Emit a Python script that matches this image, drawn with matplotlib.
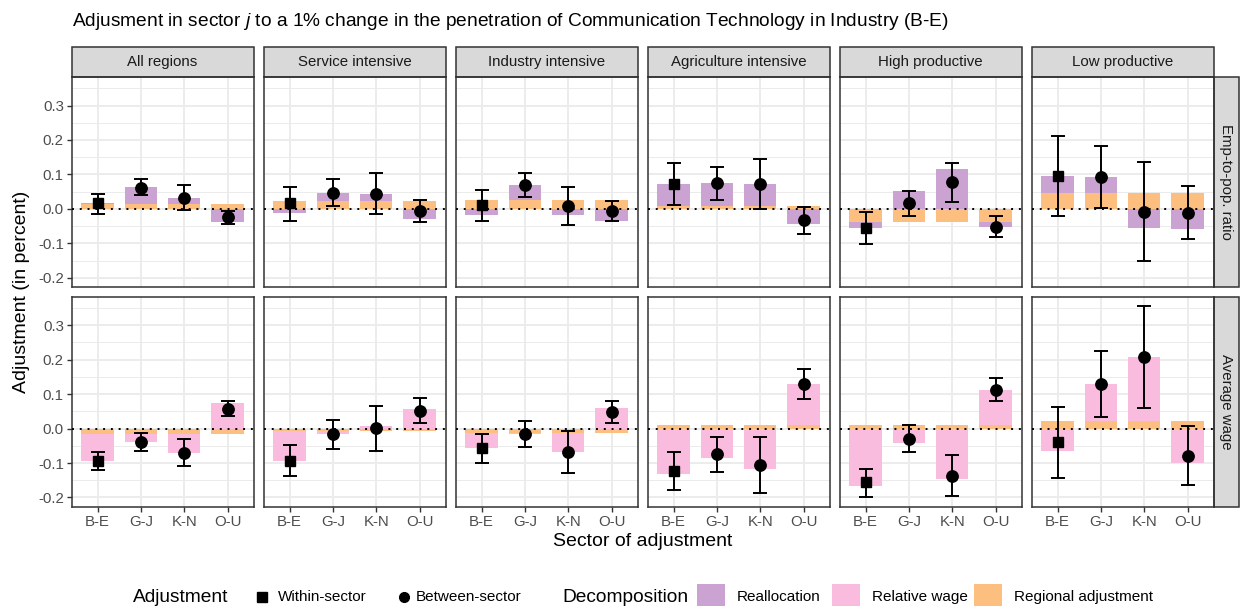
import matplotlib
matplotlib.use("Agg")
import matplotlib.pyplot as plt
from matplotlib.patches import Rectangle
from matplotlib.lines import Line2D
import numpy as np

plt.rcParams['font.family'] = ['Liberation Sans', 'DejaVu Sans']
plt.rcParams['mathtext.fontset'] = 'custom'
plt.rcParams['mathtext.rm'] = 'Liberation Sans'
plt.rcParams['mathtext.it'] = 'Liberation Sans:italic'

# --- data ---
sectors = ['B-E', 'G-J', 'K-N', 'O-U']
regions = ['All regions', 'Service intensive', 'Industry intensive',
           'Agriculture intensive', 'High productive', 'Low productive']
outcomes = ['Emp-to-pop. ratio', 'Average wage']

# Emp-to-pop. ratio
regional_emp = [0.013, 0.024, 0.026, 0.009, -0.038, 0.046]
realloc_emp = [
    [0.003, 0.050, 0.019, -0.037],
    [-0.011, 0.023, 0.020, -0.030],
    [-0.017, 0.042, -0.019, -0.034],
    [0.064, 0.065, 0.064, -0.044],
    [-0.017, 0.052, 0.115, -0.014],
    [0.049, 0.047, -0.055, -0.058],
]
est_emp = [
    [0.016, 0.062, 0.032, -0.024],
    [0.016, 0.047, 0.044, -0.006],
    [0.010, 0.068, 0.008, -0.006],
    [0.073, 0.074, 0.073, -0.033],
    [-0.055, 0.016, 0.078, -0.052],
    [0.096, 0.092, -0.009, -0.012],
]
hi_emp = [
    [0.044, 0.086, 0.070, -0.005],
    [0.065, 0.086, 0.104, 0.026],
    [0.055, 0.104, 0.063, 0.023],
    [0.133, 0.122, 0.145, 0.005],
    [-0.009, 0.051, 0.134, -0.021],
    [0.212, 0.183, 0.136, 0.066],
]
lo_emp = [
    [-0.016, 0.040, -0.003, -0.043],
    [-0.035, 0.009, -0.015, -0.037],
    [-0.036, 0.034, -0.046, -0.035],
    [0.012, 0.027, 0.000, -0.074],
    [-0.102, -0.021, 0.021, -0.081],
    [-0.022, 0.002, -0.152, -0.087],
]

# Average wage
regional_wage = [-0.016, -0.006, -0.013, 0.010, 0.009, 0.023]
relwage = [
    [-0.078, -0.022, -0.054, 0.074],
    [-0.088, -0.009, 0.008, 0.057],
    [-0.044, -0.003, -0.055, 0.060],
    [-0.133, -0.084, -0.117, 0.119],
    [-0.167, -0.041, -0.146, 0.104],
    [-0.064, 0.106, 0.184, -0.101],
]
est_wage = [
    [-0.094, -0.038, -0.070, 0.058],
    [-0.094, -0.016, 0.001, 0.052],
    [-0.057, -0.015, -0.069, 0.047],
    [-0.122, -0.074, -0.107, 0.129],
    [-0.156, -0.031, -0.137, 0.112],
    [-0.040, 0.129, 0.208, -0.079],
]
hi_wage = [
    [-0.068, -0.012, -0.031, 0.081],
    [-0.048, 0.025, 0.067, 0.088],
    [-0.016, 0.023, -0.008, 0.081],
    [-0.068, -0.023, -0.025, 0.173],
    [-0.116, 0.009, -0.078, 0.147],
    [0.064, 0.225, 0.356, 0.008],
]
lo_wage = [
    [-0.120, -0.064, -0.109, 0.037],
    [-0.137, -0.058, -0.065, 0.016],
    [-0.099, -0.053, -0.128, 0.015],
    [-0.177, -0.125, -0.186, 0.087],
    [-0.199, -0.068, -0.196, 0.079],
    [-0.144, 0.034, 0.061, -0.164],
]

col_realloc = '#CBA3D3'
col_relwage = '#F9BCDE'
col_regional = '#FDBF80'
grid_col = '#EBEBEB'
border_col = '#333333'

W, H = 1241, 606
fig = plt.figure(figsize=(W / 100, H / 100), dpi=100)


def px_rect(left, top, w, h):
    return [left / W, 1 - (top + h) / H, w / W, h / H]


panel_w, panel_h = 181.8, 209.8
lefts = [71.7 + 192 * i for i in range(6)]
tops = [77.3, 297.0]

rows = [
    (regional_emp, realloc_emp, col_realloc, est_emp, lo_emp, hi_emp),
    (regional_wage, relwage, col_relwage, est_wage, lo_wage, hi_wage),
]

x = np.arange(1, 5)
for r, (reg, comp, comp_col, est, lo, hi) in enumerate(rows):
    for c in range(6):
        ax = fig.add_axes(px_rect(lefts[c], tops[r], panel_w, panel_h))
        ax.set_xlim(0.4, 4.6)
        ax.set_ylim(-0.227, 0.382)
        ax.set_yticks([-0.2, -0.1, 0.0, 0.1, 0.2, 0.3])
        ax.set_yticks([-0.15, -0.05, 0.05, 0.15, 0.25, 0.35], minor=True)
        ax.set_xticks(x)
        ax.grid(True, which='major', color=grid_col, lw=1.3, zorder=0)
        ax.grid(True, which='minor', axis='y', color=grid_col, lw=0.7, zorder=0)
        ax.set_axisbelow(True)
        for s in ax.spines.values():
            s.set_color(border_col)
            s.set_linewidth(1.1)
        ax.tick_params(axis='both', which='major', length=3.5, width=1.0,
                       color=border_col, labelcolor='#4D4D4D',
                       labelsize=10.8, pad=2.2)
        ax.tick_params(axis='y', which='minor', length=0)

        # stacked decomposition bars
        rv = np.full(4, reg[c])
        cv = np.array(comp[c])
        bottoms = np.where(np.sign(cv) == np.sign(rv), rv, 0.0)
        ax.bar(x, rv, width=0.75, color=col_regional, zorder=2, lw=0)
        ax.bar(x, cv, bottom=bottoms, width=0.75, color=comp_col, zorder=2, lw=0)

        ax.axhline(0, color='black', lw=1.4, ls=(0, (1, 3)), zorder=3)

        e = np.array(est[c])
        yerr = [e - np.array(lo[c]), np.array(hi[c]) - e]
        ax.errorbar(x, e, yerr=yerr, fmt='none', ecolor='black',
                    elinewidth=1.4, capsize=5.3, capthick=1.4, zorder=4)
        ax.plot(x[:1], e[:1], 's', color='black', ms=7.8, zorder=5)
        ax.plot(x[1:], e[1:], 'o', color='black', ms=8.2, zorder=5)

        if c == 0:
            ax.set_yticklabels(['-0.2', '-0.1', '0.0', '0.1', '0.2', '0.3'])
        else:
            ax.tick_params(axis='y', which='major', length=0, labelleft=False)
        if r == 1:
            ax.set_xticklabels(sectors)
        else:
            ax.tick_params(axis='x', length=0, labelbottom=False)

        # strips
        if r == 0:
            sh = 30 / panel_h
            ax.add_patch(Rectangle((0, 1), 1, sh, transform=ax.transAxes,
                                   facecolor='#D9D9D9', edgecolor=border_col,
                                   lw=1.1, clip_on=False))
            ax.text(0.5, 1 + sh / 2, regions[c], transform=ax.transAxes,
                    ha='center', va='center', fontsize=10.8, color='#1A1A1A')
        if c == 5:
            sw = 25 / panel_w
            ax.add_patch(Rectangle((1, 0), sw, 1, transform=ax.transAxes,
                                   facecolor='#D9D9D9', edgecolor=border_col,
                                   lw=1.1, clip_on=False))
            ax.text(1 + sw / 2, 0.5, outcomes[r], transform=ax.transAxes,
                    ha='center', va='center', rotation=-90,
                    fontsize=10.8, color='#1A1A1A')

# titles
fig.text(72 / W, 1 - 22 / H, 'Adjusment in sector $j$ to a 1% change in the penetration '
         'of Communication Technology in Industry (B-E)',
         ha='left', va='center', fontsize=13.8, color='black')
fig.text(642.5 / W, 1 - 542 / H, 'Sector of adjustment', ha='center', va='center',
         fontsize=14, color='black')
fig.text(22 / W, 1 - 292 / H, 'Adjustment (in percent)', ha='center', va='center',
         rotation=90, fontsize=14, color='black')

# legend (manual)
ly = 1 - 597 / H
fig.text(133 / W, ly, 'Adjustment', ha='left', va='center', fontsize=13.8)
fig.add_artist(Line2D([262 / W], [ly], marker='s', color='black', ms=6.5,
                      transform=fig.transFigure))
fig.text(278 / W, ly, 'Within-sector', ha='left', va='center', fontsize=11)
fig.add_artist(Line2D([404 / W], [ly], marker='o', color='black', ms=7,
                      transform=fig.transFigure))
fig.text(416 / W, ly, 'Between-sector', ha='left', va='center', fontsize=11)
fig.text(562 / W, ly, 'Decomposition', ha='left', va='center', fontsize=13.8)
for px, col, lab in [(697, col_realloc, 'Reallocation'),
                     (832, col_relwage, 'Relative wage'),
                     (974, col_regional, 'Regional adjustment')]:
    fig.add_artist(Rectangle((px / W, 1 - 612 / H), 28 / W, 28 / H,
                             facecolor=col, edgecolor='none',
                             transform=fig.transFigure))
    fig.text((px + 40) / W, ly, lab, ha='left', va='center', fontsize=11)

fig.savefig('out.png', dpi=100)
